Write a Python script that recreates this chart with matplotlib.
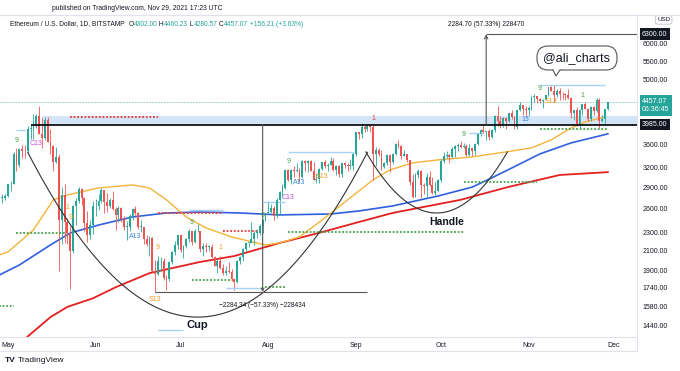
import numpy as np
import pandas as pd
import matplotlib
matplotlib.use("Agg")
import matplotlib.pyplot as plt
import matplotlib.dates as mdates
from matplotlib.ticker import NullLocator, NullFormatter
from matplotlib.patches import FancyBboxPatch, Polygon
from matplotlib.lines import Line2D
from matplotlib.transforms import blended_transform_factory

plt.rcParams["font.family"] = ["Liberation Sans", "DejaVu Sans"]

W, H = 680, 371

# ---- daily ETH/USD candles, 2021-04-29 .. 2021-11-29 ----
dates = pd.date_range("2021-04-29", "2021-11-29", freq="D")

opens = [
    2750, 2750,
    2770, 2945, 2950, 3430, 3250, 3520, 3490, 3480, 3900, 3920, 3950, 4170, 3800, 3720, 4080, 3650,
    3580, 3290, 3380, 2450, 2780, 2430, 2300, 2100, 2640, 2700, 2880, 2740, 2420, 2280, 2390,
    2630, 2630, 2710, 2860, 2690, 2630, 2720, 2590, 2520, 2610, 2470, 2370, 2370, 2510, 2590,
    2550, 2370, 2370, 2230, 2170, 2240, 1900, 1870, 1990, 1990, 1830, 1820, 1980, 2090, 2160,
    2280, 2110, 2150, 2230, 2320, 2200, 2320, 2320, 2120, 2150, 2140, 2140, 2030, 1940, 1990, 1920,
    1880, 1900, 1890, 1820, 1790, 1990, 2030, 2120, 2190, 2190, 2230, 2300, 2300, 2380, 2460,
    2540, 2560, 2610, 2510, 2720, 2830, 2890, 3160, 3010, 3160, 3140, 3170, 3050, 3320, 3270, 3310,
    3150, 3010, 3020, 3180, 3290, 3230, 3240, 3320, 3170, 3230, 3100, 3270, 3240, 3230, 3230,
    3430, 3830, 3790, 3940, 3890, 3950, 3930, 3430, 3500, 3430, 3210, 3270, 3410, 3290, 3430,
    3610, 3570, 3400, 3430, 3330, 2970, 2760, 3080, 3150, 2930, 2920, 3060, 2930, 2810, 2850,
    3000, 3310, 3390, 3420, 3380, 3520, 3580, 3590, 3560, 3580, 3420, 3530, 3490, 3610, 3790, 3870,
    3830, 3850, 3740, 3880, 4160, 4050, 3970, 4110, 4050, 4220, 4130, 3930, 4290, 4410, 4320,
    4290, 4330, 4590, 4610, 4530, 4480, 4520, 4620, 4810, 4730, 4630, 4720, 4660, 4650, 4630,
    4570, 4220, 4290, 3990, 4300, 4430, 4320, 4100, 4350, 4270, 4520, 4050, 4100, 4302.00,
]
highs = [
    2800, 2800,
    2950, 2985, 3460, 3530, 3540, 3600, 3590, 3960, 3980, 4200, 4200, 4380, 4120, 4140, 4130, 3900,
    3600, 3560, 3440, 2900, 2940, 2480, 2380, 2650, 2750, 2900, 2890, 2760, 2570, 2450, 2700,
    2730, 2800, 2890, 2860, 2820, 2750, 2850, 2620, 2640, 2620, 2510, 2440, 2530, 2610, 2630,
    2560, 2450, 2370, 2280, 2260, 2250, 2000, 2050, 2030, 2020, 1860, 1990, 2100, 2210, 2280,
    2280, 2160, 2240, 2350, 2320, 2350, 2410, 2320, 2190, 2190, 2160, 2170, 2050, 2010, 2040, 1960,
    1940, 1980, 1910, 1830, 2000, 2050, 2130, 2200, 2200, 2430, 2320, 2340, 2400, 2470, 2550,
    2700, 2660, 2630, 2740, 2840, 2950, 3180, 3180, 3180, 3230, 3270, 3200, 3330, 3330, 3330, 3330,
    3300, 3110, 3190, 3300, 3330, 3280, 3380, 3360, 3250, 3250, 3280, 3290, 3280, 3340, 3470,
    3840, 3830, 4020, 3970, 3980, 3970, 3970, 3560, 3540, 3510, 3300, 3440, 3430, 3450, 3620,
    3680, 3600, 3500, 3440, 3330, 3100, 3110, 3180, 3160, 2960, 3110, 3140, 3060, 2970, 3020,
    3340, 3470, 3490, 3440, 3560, 3600, 3630, 3670, 3620, 3610, 3610, 3540, 3620, 3820, 3900, 3970,
    3850, 3890, 3900, 4190, 4380, 4170, 4140, 4130, 4230, 4290, 4160, 4300, 4460, 4410, 4380,
    4380, 4600, 4660, 4610, 4570, 4530, 4640, 4830, 4840, 4870, 4780, 4800, 4700, 4680, 4770,
    4580, 4300, 4350, 4310, 4430, 4460, 4340, 4380, 4370, 4550, 4550, 4180, 4300, 4460.23,
]
lows = [
    2670, 2720,
    2760, 2850, 2940, 3150, 3210, 3370, 3360, 3440, 3710, 3700, 3920, 3790, 3530, 3690, 3640, 3440,
    3150, 3270, 1900, 2170, 2180, 2170, 1730, 2080, 2390, 2680, 2650, 2320, 2200, 2230, 2290,
    2500, 2580, 2680, 2550, 2560, 2610, 2580, 2330, 2430, 2430, 2330, 2220, 2320, 2460, 2520,
    2340, 2310, 2170, 2150, 2050, 1890, 1700, 1860, 1900, 1810, 1720, 1800, 1960, 2060, 2120,
    2090, 2020, 2130, 2200, 2160, 2190, 2310, 2090, 2050, 2090, 2100, 2020, 1940, 1880, 1910, 1860,
    1860, 1880, 1800, 1718, 1780, 1960, 1990, 2100, 2140, 2190, 2160, 2240, 2270, 2300, 2440,
    2530, 2540, 2450, 2480, 2530, 2760, 2880, 2990, 2950, 3060, 3130, 2980, 3040, 3150, 3130, 3140,
    3000, 2960, 2960, 3170, 3200, 3150, 3240, 3140, 3090, 3060, 3060, 3200, 3150, 3180, 3170,
    3390, 3710, 3730, 3830, 3860, 3840, 3000, 3230, 3390, 3160, 3200, 3240, 3130, 3260, 3410,
    3530, 3350, 3390, 3300, 2930, 2740, 2760, 3040, 2740, 2800, 2740, 2920, 2800, 2790, 2840,
    2980, 3270, 3370, 3280, 3360, 3380, 3480, 3540, 3540, 3400, 3400, 3400, 3410, 3590, 3750, 3820,
    3690, 3690, 3720, 3830, 3960, 3920, 3940, 3900, 4040, 4100, 3900, 3890, 4260, 4180, 4150,
    4160, 4300, 4460, 4440, 4440, 4330, 4510, 4610, 4720, 4470, 4580, 4520, 4540, 4520, 4540,
    4110, 4070, 3960, 3900, 4180, 4320, 4060, 4060, 4180, 4250, 3920, 4040, 3990, 4280.57,
]
closes = [
    2750, 2770,
    2945, 2950, 3430, 3250, 3520, 3490, 3480, 3900, 3920, 3950, 4170, 3800, 3720, 4080, 3650, 3580,
    3290, 3380, 2450, 2780, 2430, 2300, 2100, 2640, 2700, 2880, 2740, 2420, 2280, 2390, 2630,
    2630, 2710, 2860, 2690, 2630, 2720, 2590, 2520, 2610, 2470, 2370, 2370, 2510, 2590, 2550,
    2370, 2370, 2230, 2170, 2240, 1900, 1870, 1990, 1990, 1830, 1820, 1980, 2090, 2160, 2280,
    2110, 2150, 2230, 2320, 2200, 2320, 2320, 2120, 2150, 2140, 2140, 2030, 1940, 1990, 1920, 1880,
    1900, 1890, 1820, 1790, 1990, 2030, 2120, 2190, 2190, 2230, 2300, 2300, 2380, 2460, 2540,
    2560, 2610, 2510, 2720, 2830, 2890, 3160, 3010, 3160, 3140, 3170, 3050, 3320, 3270, 3310, 3150,
    3010, 3020, 3180, 3290, 3230, 3240, 3320, 3170, 3230, 3100, 3270, 3240, 3230, 3230, 3430,
    3830, 3790, 3940, 3890, 3950, 3930, 3430, 3500, 3430, 3210, 3270, 3410, 3290, 3430, 3610,
    3570, 3400, 3430, 3330, 2970, 2760, 3080, 3150, 2930, 2920, 3060, 2930, 2810, 2850, 3000,
    3310, 3390, 3420, 3380, 3520, 3580, 3590, 3560, 3580, 3420, 3530, 3490, 3610, 3790, 3870, 3830,
    3850, 3740, 3880, 4160, 4050, 3970, 4110, 4050, 4220, 4130, 3930, 4290, 4410, 4320, 4290,
    4330, 4590, 4610, 4530, 4480, 4520, 4620, 4810, 4730, 4630, 4720, 4660, 4650, 4630, 4570,
    4220, 4290, 3990, 4300, 4430, 4320, 4100, 4350, 4270, 4520, 4050, 4100, 4300.86, 4457.07,
]

# moving averages, sampled off the chart
ma50_dates = ["2021-04-28", "2021-05-01", "2021-05-10", "2021-05-17", "2021-05-22", "2021-06-02",
              "2021-06-14", "2021-06-20", "2021-06-26", "2021-07-03", "2021-07-10", "2021-07-19",
              "2021-07-31", "2021-08-05", "2021-08-12", "2021-08-20", "2021-08-29", "2021-09-07",
              "2021-09-13", "2021-09-21", "2021-09-30", "2021-10-12", "2021-10-24", "2021-11-02",
              "2021-11-09", "2021-11-16", "2021-11-21", "2021-11-28"]
ma50_vals = [2056, 2088, 2335, 2719, 2788, 2888, 2933, 2888, 2719, 2493, 2358, 2253, 2163, 2185,
             2253, 2455, 2719, 3009, 3165, 3280, 3330, 3381, 3468, 3539, 3686, 3917, 4038, 4142]

ma100_dates = ["2021-04-28", "2021-05-05", "2021-05-16", "2021-05-23", "2021-06-02", "2021-06-14",
               "2021-06-26", "2021-07-08", "2021-07-22", "2021-08-05", "2021-08-23", "2021-09-02",
               "2021-09-14", "2021-09-30", "2021-10-12", "2021-10-18", "2021-10-24", "2021-11-05",
               "2021-11-16", "2021-11-29"]
ma100_vals = [1858, 1954, 2163, 2299, 2393, 2493, 2544, 2557, 2544, 2519, 2531, 2570, 2637, 2773,
              2900, 3020, 3150, 3433, 3630, 3800]

ma200_dates = ["2021-05-04", "2021-05-08", "2021-05-16", "2021-05-22", "2021-05-31", "2021-06-08",
               "2021-06-20", "2021-07-08", "2021-07-20", "2021-08-05", "2021-08-19", "2021-09-02",
               "2021-09-14", "2021-10-08", "2021-10-25", "2021-11-12", "2021-11-29"]
ma200_vals = [1290, 1360, 1500, 1580, 1650, 1745, 1875, 1985, 2045, 2185, 2300, 2430, 2545, 2720,
              2905, 3085, 3130]

# TD sequential counts shown on the chart
td_text = ["9", "C13", "1", "9", "A13", "9", "9", "1", "S13", "9", "C13", "9", "A13", "S13",
           "1", "9", "13", "9", "S13", "1"]
td_dates = ["2021-05-04", "2021-05-11", "2021-05-22", "2021-05-23", "2021-06-15", "2021-06-23",
            "2021-07-05", "2021-07-15", "2021-06-22", "2021-07-30", "2021-08-08", "2021-08-08",
            "2021-08-12", "2021-08-20", "2021-09-07", "2021-10-09", "2021-10-31", "2021-11-05",
            "2021-11-09", "2021-11-20"]
td_prices = [3670, 3612, 2610, 2481, 2253, 2130, 2430, 2130, 1636, 2506, 2746, 3297, 2963, 3055,
             4100, 3780, 4080, 4774, 4470, 4608]
td_kind = ["g", "c", "o", "o", "a", "o", "g", "o", "o", "g", "c", "g", "a", "o",
           "r", "g", "a", "g", "o", "g"]

# TDST support / resistance segments: start, end, price
res_lines = [("2021-05-23", "2021-06-23", 4142), ("2021-06-23", "2021-07-16", 2544),
             ("2021-07-16", "2021-07-28", 2322)]
sup_lines = [("2021-04-27", "2021-05-03", 1587), ("2021-05-04", "2021-05-22", 2299),
             ("2021-07-05", "2021-07-19", 1811), ("2021-07-31", "2021-08-07", 1748),
             ("2021-08-08", "2021-10-09", 2310), ("2021-10-09", "2021-11-04", 2978),
             ("2021-11-05", "2021-11-29", 3897)]
risk_lines = [("2021-07-04", "2021-07-16", 2584), ("2021-07-17", "2021-07-30", 1739),
              ("2021-06-23", "2021-07-02", 1404), ("2021-08-08", "2021-08-31", 3468),
              ("2021-07-30", "2021-08-07", 2690), ("2021-10-11", "2021-10-16", 3819),
              ("2021-11-05", "2021-11-28", 4872), ("2021-05-04", "2021-05-07", 3878)]

support_level = 3985.00
target_level = 6300.00
cup_low = 1704.00

UP = "#26a69a"
DOWN = "#ef5350"
DARK = "#131722"
TD_COLORS = {"g": "#43a047", "c": "#c04fd0", "o": "#f39a1e", "a": "#2f8be0", "r": "#e53935"}


def dn(s):
    return mdates.date2num(pd.Timestamp(s))


fig = plt.figure(figsize=(W / 100, H / 100), dpi=100)
fig.patch.set_facecolor("white")
ax = fig.add_axes([0, (H - 337) / H, 637 / W, (337 - 15) / H])
ax.set_yscale("log")
x0 = dn("2021-05-01")
xmin, xmax = x0 - 2.83, x0 + 222.3
ax.set_xlim(xmin, xmax)
ax.set_ylim(1356, 6946)

# support band + level
ax.fill_between([dn("2021-05-13"), xmax], support_level, 4163, color="#d3e4f8", lw=0, zorder=1)
ax.hlines(support_level, dn("2021-05-09"), xmax, color="black", lw=1.2, zorder=5)
ax.axhline(closes[-1], color="#9fd6cf", lw=0.7, ls=(0, (2, 1)), zorder=1)

# moving averages
ax.plot([dn(d) for d in ma200_dates], ma200_vals, color="#e3201f", lw=1.3, zorder=2)
ax.plot([dn(d) for d in ma100_dates], ma100_vals, color="#3060e0", lw=1.2, zorder=2)
ax.plot([dn(d) for d in ma50_dates], ma50_vals, color="#f4b43a", lw=1.0, zorder=2)

# candles
x = mdates.date2num(dates)
o, h, l, c = (np.array(a, dtype=float) for a in (opens, highs, lows, closes))
col = np.where(c >= o, UP, DOWN)
ax.vlines(x, l, h, colors=col, lw=0.6, zorder=3)
lo = np.minimum(o, c)
body = np.maximum(np.abs(c - o), lo * 0.003)
ax.bar(x, body, bottom=lo, width=0.66, color=col, lw=0, zorder=4)

# TDST lines
for s, e, p in res_lines:
    ax.hlines(p, dn(s), dn(e), color="#e53935", lw=1.3, ls=(0, (1, 1)), zorder=3)
for s, e, p in sup_lines:
    ax.hlines(p, dn(s), dn(e), color="#43a047", lw=1.3, ls=(0, (1, 1)), zorder=3)
for s, e, p in risk_lines:
    ax.hlines(p, dn(s), dn(e), color="#a9d0f5", lw=1.0, zorder=3)

for t, d, p, k in zip(td_text, td_dates, td_prices, td_kind):
    ax.text(dn(d), p, t, color=TD_COLORS[k], fontsize=5, ha="center", va="center", zorder=6)


# cup & handle arcs (parabolas in log-price)
def arc(day0, day1, vprice, eprice):
    t = np.linspace(day0, day1, 120)
    tv = (day0 + day1) / 2
    lp = np.log(vprice) + (np.log(eprice) - np.log(vprice)) * ((t - tv) / (day1 - tv)) ** 2
    return x0 + t, np.exp(lp)


ax.plot(*arc(7.0, 127.0, 1500, 3460), color="#333333", lw=0.8, zorder=5)
ax.plot(*arc(126.5, 176.5, 2544, 3468), color="#333333", lw=0.8, zorder=5)
ax.text(dn("2021-07-07"), 1442, "Cup", fontsize=8, color=DARK, ha="center", va="center",
        fontweight="semibold", zorder=6)
ax.text(dn("2021-10-03"), 2430, "Handle", fontsize=7.5, color=DARK, ha="center", va="center",
        fontweight="semibold", zorder=6)

# measuring tool
m1 = dn("2021-07-30")
ax.hlines(cup_low, dn("2021-06-22"), dn("2021-09-05"), color="#555555", lw=0.8, zorder=5)
ax.annotate("", xy=(m1, cup_low), xytext=(m1, support_level),
            arrowprops=dict(arrowstyle="->", color="#555555", lw=0.8, shrinkA=0, shrinkB=0,
                            mutation_scale=5), zorder=5)
ax.text(m1, 1590, "\u22122284.34 (\u221257.33%) \u2212228434", fontsize=4.7, color=DARK,
        ha="center", va="center", zorder=6)
m2 = dn("2021-10-17")
ax.hlines(target_level, m2, xmax, color="#555555", lw=0.8, zorder=5)
ax.annotate("", xy=(m2, target_level), xytext=(m2, support_level),
            arrowprops=dict(arrowstyle="->", color="#555555", lw=0.8, shrinkA=0, shrinkB=0,
                            mutation_scale=6), zorder=5)
ax.text(m2, 6630, "2284.70 (57.33%) 228470", fontsize=4.8, color=DARK, ha="center",
        va="center", zorder=6)

# axes styling
ax.spines["left"].set_visible(False)
for side in ("top", "bottom", "right"):
    ax.spines[side].set_color("#e0e3eb")
    ax.spines[side].set_linewidth(0.8)

ytick_vals = [6000, 5500, 5000, 3600, 3200, 2900, 2600, 2300, 2100, 1900, 1740, 1580, 1440]
ax.yaxis.tick_right()
ax.set_yticks(ytick_vals)
ax.set_yticklabels([f"{v:.2f}" for v in ytick_vals])
ax.yaxis.set_minor_locator(NullLocator())
ax.yaxis.set_minor_formatter(NullFormatter())
ax.tick_params(axis="y", length=0, pad=4, labelsize=5, labelcolor=DARK)

month_starts = pd.date_range("2021-05-01", "2021-12-01", freq="MS")
ax.set_xticks(mdates.date2num(month_starts))
ax.set_xticklabels([d.strftime("%b") for d in month_starts])
ax.tick_params(axis="x", length=0, pad=3.5, labelsize=5, labelcolor=DARK)

# boxed price labels on the scale
tr = blended_transform_factory(ax.transAxes, ax.transData)
lx = 1 + 5 / 637
ax.text(lx, target_level, f"{target_level:.2f}", transform=tr, fontsize=5, color="white",
        va="center", ha="left", clip_on=False, zorder=7,
        bbox=dict(boxstyle="square,pad=0.35", fc=DARK, ec="none"))
ax.text(lx, support_level, f"{support_level:.2f}", transform=tr, fontsize=5, color="white",
        va="center", ha="left", clip_on=False, zorder=7,
        bbox=dict(boxstyle="square,pad=0.35", fc=DARK, ec="none"))
ax.text(lx, closes[-1] * 0.985, f"{closes[-1]:.2f}\n06:36:45", transform=tr, fontsize=5,
        color="white", va="center", ha="left", clip_on=False, zorder=7, linespacing=1.3,
        bbox=dict(boxstyle="square,pad=0.35", fc=UP, ec="none"))
ax.text(1 + 20 / 637, 6780, "USD", transform=tr, fontsize=4.5, color=DARK, va="center",
        ha="left", clip_on=False, zorder=8,
        bbox=dict(boxstyle="round,pad=0.3,rounding_size=0.4", fc="white", ec="#b0b4bd", lw=0.5))

# frame lines outside the axes
fig.add_artist(Line2D([0, 1], [1 - 15 / H, 1 - 15 / H], color="#e0e3eb", lw=0.8))
fig.add_artist(Line2D([0, 637 / W], [1 - 351 / H, 1 - 351 / H], color="#e0e3eb", lw=0.8))
fig.add_artist(Line2D([637 / W, 637 / W], [1 - 351 / H, 1 - 337 / H], color="#e0e3eb", lw=0.8))

# header
fig.text(52 / W, 1 - 8 / H, "published on TradingView.com, Nov 29, 2021 17:23 UTC",
         fontsize=4.9, color=DARK, va="center", ha="left")

rend = fig.canvas.get_renderer()
chg = closes[-1] - closes[-2]
parts = [("Ethereum / U.S. Dollar, 1D, BITSTAMP  ", DARK), ("O", DARK), (f"{opens[-1]:.2f}", UP),
         (" H", DARK), (f"{highs[-1]:.2f}", UP), (" L", DARK), (f"{lows[-1]:.2f}", UP),
         (" C", DARK), (f"{closes[-1]:.2f}", UP),
         (f" +{chg:.2f} (+{chg / closes[-2] * 100:.2f}%)", UP)]
xp = 10
for s, cc in parts:
    t = fig.text(xp / W, 1 - 24 / H, s, fontsize=4.75, color=cc, va="center", ha="left")
    xp = t.get_window_extent(renderer=rend).x1

# speech bubble
bub = FancyBboxPatch((5.37, 3.01), 0.80, 0.24, boxstyle="round,pad=0,rounding_size=0.11",
                     transform=fig.dpi_scale_trans, fc="white", ec="#555555", lw=0.8, zorder=10)
fig.add_artist(bub)
tail = Polygon([(5.53, 3.02), (5.56, 2.95), (5.60, 3.02)], closed=True,
               transform=fig.dpi_scale_trans, fc="white", ec="none", zorder=11)
fig.add_artist(tail)
fig.add_artist(Line2D([5.53, 5.56, 5.60], [3.01, 2.95, 3.01], transform=fig.dpi_scale_trans,
                      color="#555555", lw=0.8, zorder=12))
fig.text(5.77, 3.13, "@ali_charts", transform=fig.dpi_scale_trans, fontsize=9, color=DARK,
         ha="center", va="center", zorder=13)

# footer logo
fig.text(5 / W, 1 - 361 / H, "TV", fontsize=6, fontweight="bold", color=DARK, va="center")
fig.text(18 / W, 1 - 361 / H, "TradingView", fontsize=6, color=DARK, va="center")

fig.savefig("out.png", dpi=100, facecolor="white")
